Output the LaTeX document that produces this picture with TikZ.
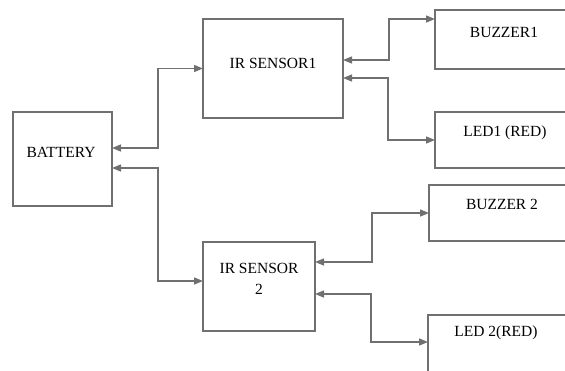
\documentclass[tikz,border=0pt]{standalone}
\usepackage{fontspec}
\setmainfont{Liberation Serif}
\usetikzlibrary{arrows.meta}
\definecolor{linegray}{RGB}{112,112,112}
\begin{document}
\begin{tikzpicture}[x=1pt,y=-1pt,
  box/.style={draw=linegray, line width=1.3pt, inner sep=0pt, outer sep=0pt, anchor=north west},
  lbl/.style={font=\fontsize{15.5}{21}\selectfont, inner sep=0pt, text=black},
  conn/.style={draw=linegray, line width=1.4pt, {Triangle[length=9pt,width=7pt]}-{Triangle[length=9pt,width=7pt]}}]
\useasboundingbox (0,0) rectangle (565,370);
\clip (0,0) rectangle (565,370);
% boxes
\node[box, minimum width=99pt, minimum height=94pt] (bat) at (13,112) {};
\node[box, minimum width=140pt, minimum height=99pt] (ir1) at (203,19) {};
\node[box, minimum width=112pt, minimum height=89pt] (ir2) at (203,242) {};
\node[box, minimum width=160pt, minimum height=59pt] (bz1) at (435,10) {};
\node[box, minimum width=160pt, minimum height=56pt] (led1) at (435,112) {};
\node[box, minimum width=160pt, minimum height=56pt] (bz2) at (429,185) {};
\node[box, minimum width=160pt, minimum height=70pt] (led2) at (428,315) {};
% labels
\node[lbl] (tbat) at (61,152) {BATTERY};
\node[lbl] (tir1) at (273,63) {IR SENSOR1};
\node[lbl, align=center] (tir2) at (259,278.5) {IR SENSOR\\2};
\node[lbl] (tbz1) at (504,32) {BUZZER1};
\node[lbl] (tled1) at (505,133) {LED1 (RED)};
\node[lbl] (tbz2) at (502,204) {BUZZER 2};
\node[lbl] (tled2) at (496,333) {LED 2(RED)};
% connectors
\draw[conn] ([yshift=11pt]bat.east) -- ++(46,0) |- (ir1.west);
\draw[conn] ([yshift=-9pt]bat.east) -- ++(46,0) |- ([yshift=5.5pt]ir2.west);
\draw[conn] ([yshift=8.5pt]ir1.east) -- ++(46,0) |- ([yshift=-9pt]bz1.north west);
\draw[conn] ([yshift=-9.5pt]ir1.east) -- ++(45,0) |- (led1.west);
\draw[conn] ([yshift=24.5pt]ir2.east) -- ++(57,0) |- (bz2.west);
\draw[conn] ([yshift=-7.5pt]ir2.east) -- ++(56,0) |- ([yshift=-27pt]led2.north west);
\end{tikzpicture}
\end{document}
